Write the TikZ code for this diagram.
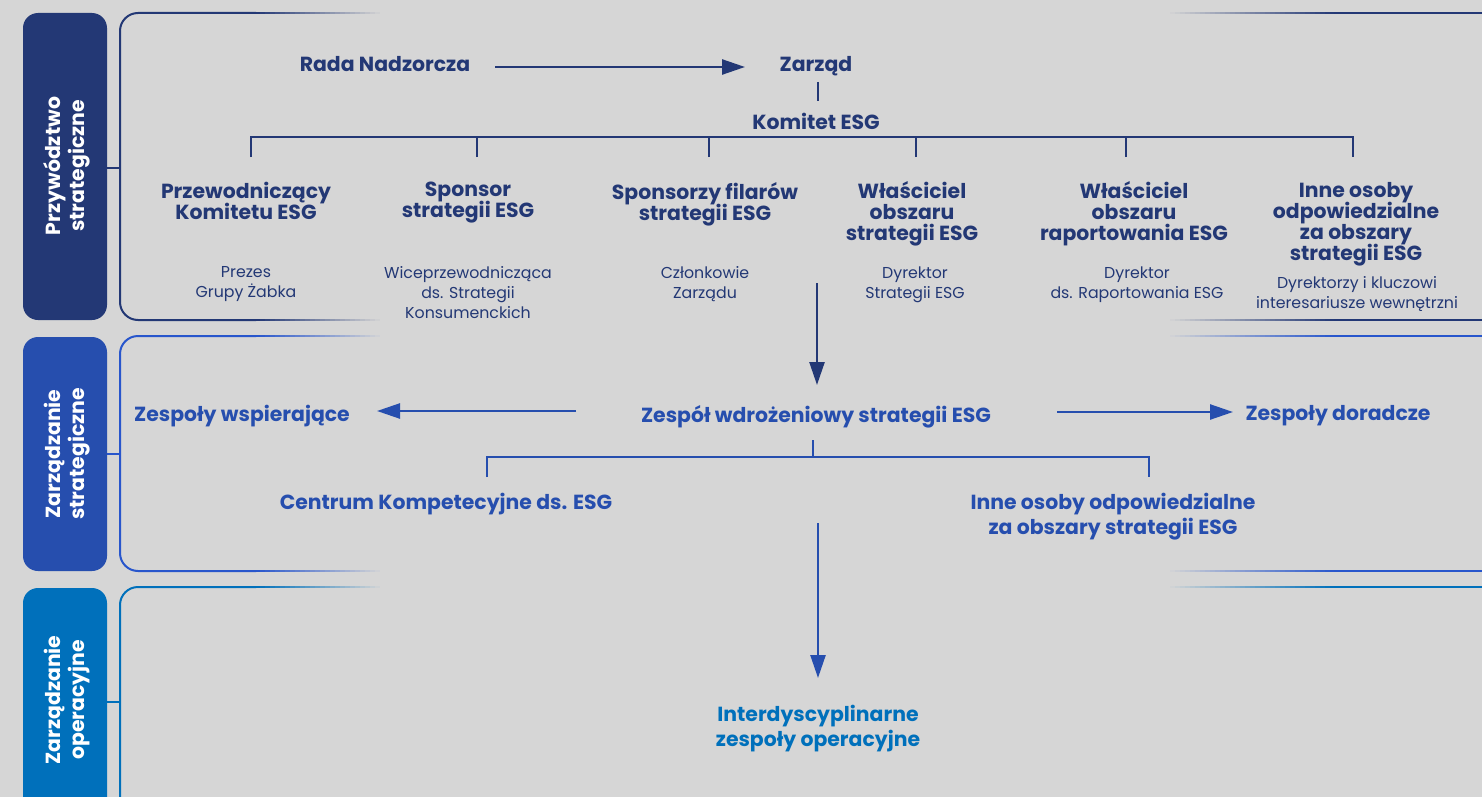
\documentclass[tikz,border=0pt]{standalone}
\usepackage{fontspec}
\setmainfont{Poppins}
\usetikzlibrary{arrows.meta}
\definecolor{bg}{RGB}{214,214,214}
\definecolor{navy}{RGB}{35,56,117}
\definecolor{mblue}{RGB}{38,78,174}
\definecolor{fblue}{RGB}{40,86,204}
\definecolor{lblue}{RGB}{0,112,187}
\newcommand{\noskip}{\lineskiplimit-20pt\relax}
% frame: colour, top, bottom
\newcommand{\myframe}[3]{%
  \draw[#1, line width=1pt, rounded corners=9pt] (256,#2) -- (120,#2) -- (120,#3) -- (256,#3);
  \foreach \i in {0,...,25}{%
    \pgfmathtruncatemacro{\pp}{100-4*\i}%
    \draw[#1!\pp!bg, line width=1pt] (255+5*\i,#2) -- (261+5*\i,#2);
    \draw[#1!\pp!bg, line width=1pt] (255+5*\i,#3) -- (261+5*\i,#3);
  }%
  \foreach \i in {0,...,33}{%
    \pgfmathtruncatemacro{\pp}{3*\i}%
    \draw[#1!\pp!bg, line width=1pt] (1165+5*\i,#2) -- (1171+5*\i,#2);
    \draw[#1!\pp!bg, line width=1pt] (1165+5*\i,#3) -- (1171+5*\i,#3);
  }%
  \draw[#1, line width=1pt] (1334,#2) -- (1482,#2);
  \draw[#1, line width=1pt] (1334,#3) -- (1482,#3);
}
\tikzset{
  hd/.style={font={\bfseries\fontsize{10.2}{10.5}\selectfont\noskip}, align=center, inner sep=0pt, anchor=north},
  hdw/.style={font={\bfseries\fontsize{10.2}{12.5}\selectfont\noskip}, align=center, inner sep=0pt, anchor=north},
  sb/.style={font={\fontsize{7.9}{10}\selectfont\noskip}, align=center, inner sep=0pt, anchor=north, text=navy},
  bartxt/.style={font={\bfseries\fontsize{10.2}{12}\selectfont\noskip}, align=center, inner sep=0pt, text=white, rotate=90},
  conn/.style={line width=1.25pt},
  arr/.style={line width=1.25pt, -{Triangle[length=11.5pt,width=7.5pt]}},
}
\begin{document}
\begin{tikzpicture}[x=0.5pt,y=-0.5pt]
\useasboundingbox (0,0) rectangle (1482,797);
\clip (0,0) rectangle (1482,797);
\fill[bg] (0,0) rectangle (1482,797);

% side bars
\fill[navy, rounded corners=7.5pt] (23,13) rectangle (107,320);
\fill[mblue, rounded corners=7.5pt] (23,337) rectangle (107,571);
\fill[lblue, rounded corners=7.5pt] (23,588) rectangle (107,840);
\node[bartxt] (bt1) at (67,166) {Przywództwo\\strategiczne};
\node[bartxt] (bt2) at (67,454) {Zarządzanie\\strategiczne};
\node[bartxt] (bt3) at (67,700) {Zarządzanie\\operacyjne};

% frames
\myframe{navy}{13}{320}
\myframe{fblue}{336}{571}
\myframe{lblue}{587}{840}

% bar-to-frame links
\coordinate (c1a) at (107,168); \coordinate (c1b) at (120,168);
\coordinate (c2a) at (107,454); \coordinate (c2b) at (120,454);
\coordinate (c3a) at (107,702); \coordinate (c3b) at (120,702);
\draw[navy, line width=1pt] (c1a) -- (c1b);
\draw[fblue, line width=1pt] (c2a) -- (c2b);
\draw[lblue, line width=1pt] (c3a) -- (c3b);

% section 1
\node[hd, text=navy] (rada) at (385,56) {Rada Nadzorcza};
\node[hd, text=navy] (zarzad) at (816,56) {Zarząd};
\node[hd, text=navy] (komitet) at (816,113) {Komitet ESG};
\node[hd, text=navy] (h1) at (246,182) {Przewodniczący\\Komitetu ESG};
\node[hd, text=navy] (h2) at (468,182) {Sponsor\\strategii ESG};
\node[hd, text=navy] (h3) at (705,182) {Sponsorzy filarów\\strategii ESG};
\node[hd, text=navy] (h4) at (912,181) {Właściciel\\obszaru\\strategii ESG};
\node[hd, text=navy] (h5) at (1134,181) {Właściciel\\obszaru\\raportowania ESG};
\node[hd, text=navy] (h6) at (1356,182) {Inne osoby\\odpowiedzialne\\za obszary\\strategii ESG};
\node[sb] (s1) at (246,266) {Prezes\\Grupy Żabka};
\node[sb] (s2) at (468,266) {Wiceprzewodnicząca\\ds. Strategii\\Konsumenckich};
\node[sb] (s3) at (705,266) {Członkowie\\Zarządu};
\node[sb] (s4) at (915,266) {Dyrektor\\Strategii ESG};
\node[sb] (s5) at (1137,266) {Dyrektor\\ds. Raportowania ESG};
\node[sb] (s6) at (1357,276) {Dyrektorzy i kluczowi\\interesariusze wewnętrzni};

\coordinate (a1) at (495,67); \coordinate (a2) at (745,67);
\draw[arr, navy] (a1) -- (a2);
\coordinate (z1) at (818,82); \coordinate (z2) at (818,101);
\draw[conn, navy] (z1) -- (z2);
\coordinate (kb) at (816,137);
\coordinate (k1) at (251,157); \coordinate (k2) at (477,157);
\coordinate (k3) at (709,157); \coordinate (k4) at (916,157);
\coordinate (k5) at (1126,157); \coordinate (k6) at (1353,157);
\draw[conn, navy] (k1) -- (k1 |- kb) -- (k6 |- kb) -- (k6);
\foreach \k in {k2,k3,k4,k5} \draw[conn, navy] (\k) -- (\k |- kb);

\coordinate (d1) at (817,283); \coordinate (d2) at (817,385);
\draw[arr, navy] (d1) -- (d2);

% section 2
\node[hd, text=mblue] (wsp) at (242,405) {Zespoły wspierające};
\node[hd, text=mblue] (wdr) at (816,405) {Zespół wdrożeniowy strategii ESG};
\node[hd, text=mblue] (dor) at (1338,405) {Zespoły doradcze};
\node[hd, text=mblue] (cen) at (446,493) {Centrum Kompetecyjne ds. ESG};
\node[hdw, text=mblue] (inne) at (1113,493) {Inne osoby odpowiedzialne\\za obszary strategii ESG};

\coordinate (l1) at (576,411); \coordinate (l2) at (377,411);
\draw[arr, mblue] (l1) -- (l2);
\coordinate (r1) at (1057,412); \coordinate (r2) at (1233,412);
\draw[arr, mblue] (r1) -- (r2);
\coordinate (wb) at (813,457); \coordinate (wt) at (813,440);
\coordinate (w1) at (487,477); \coordinate (w2) at (1149,477);
\draw[conn, mblue] (w1) -- (w1 |- wb) -- (w2 |- wb) -- (w2);
\draw[conn, mblue] (wt) -- (wb);
\coordinate (b1) at (818,523); \coordinate (b2) at (818,678);
\draw[arr, mblue] (b1) -- (b2);

% section 3
\node[hdw, text=lblue] (inter) at (818,705) {Interdyscyplinarne\\zespoły operacyjne};
\end{tikzpicture}
\end{document}
